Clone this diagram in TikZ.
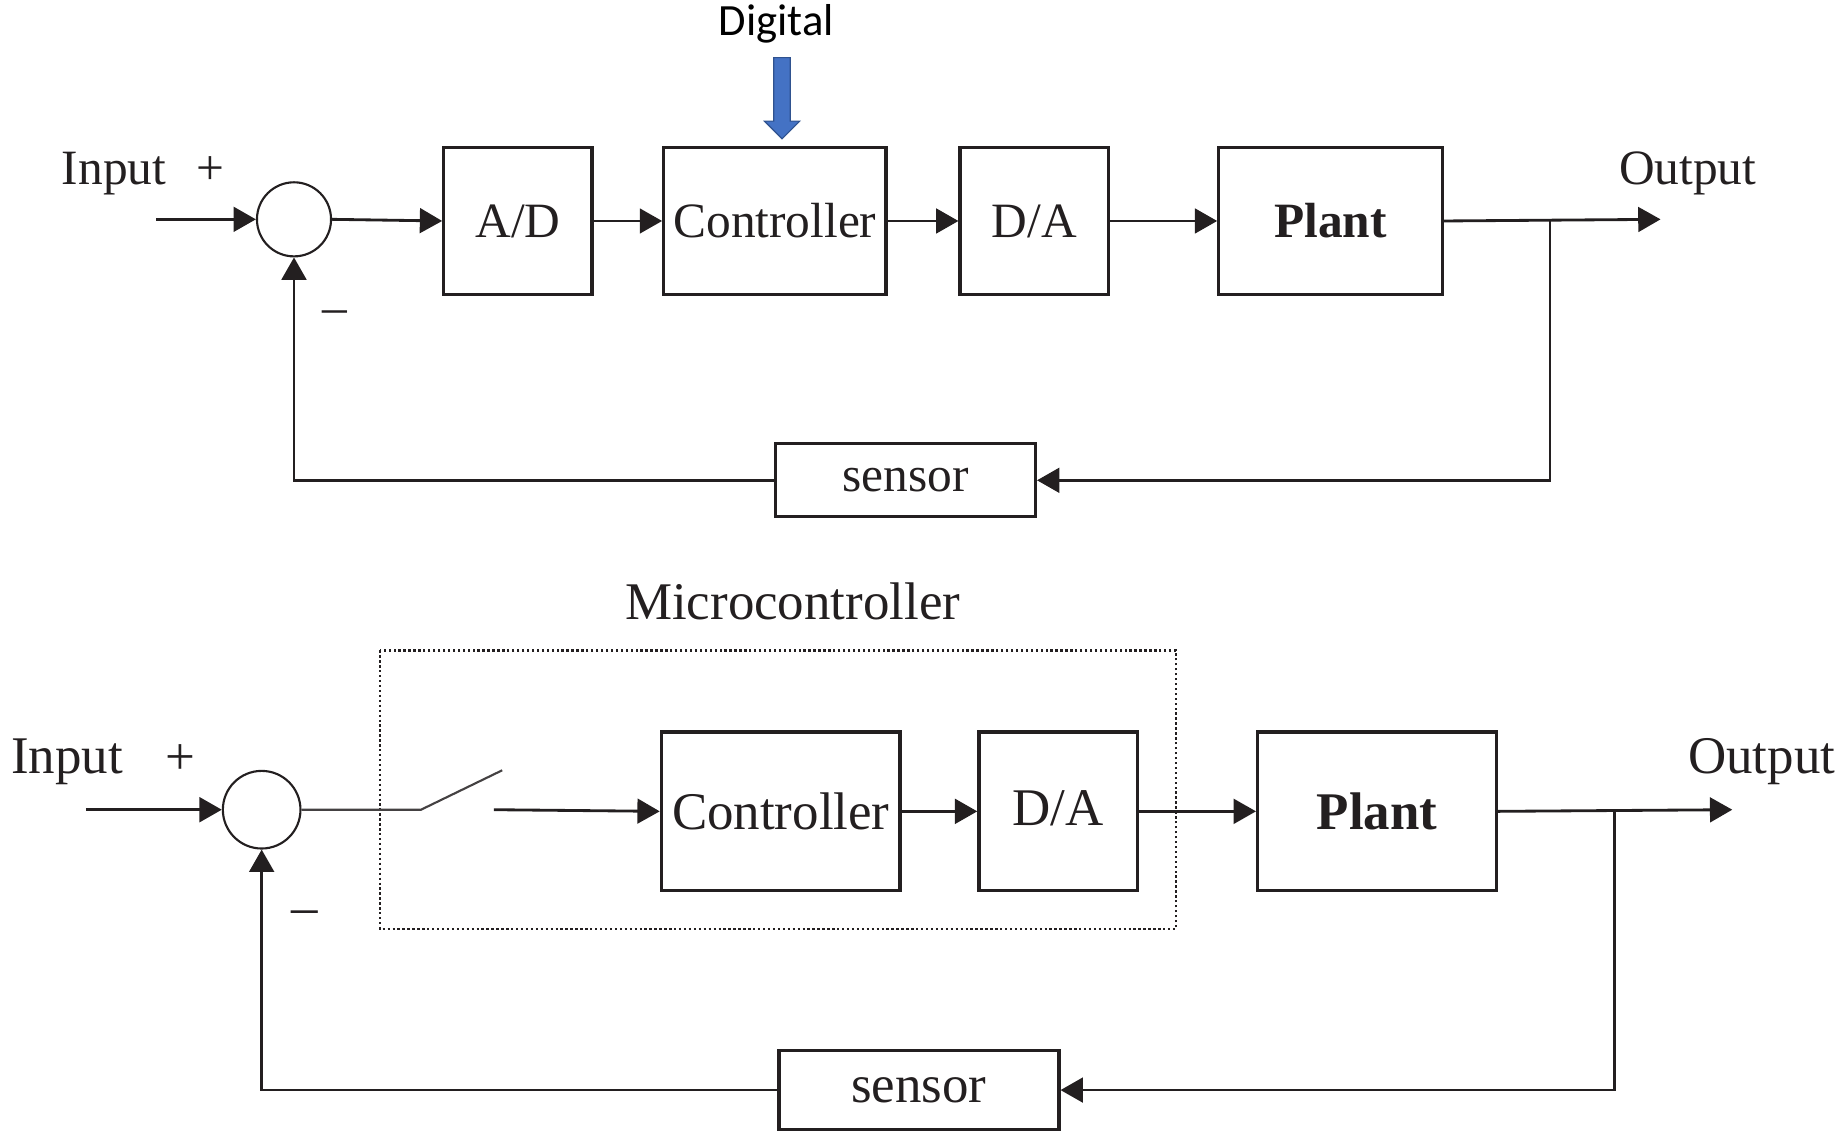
\documentclass[tikz,border=0pt]{standalone}
\usepackage{fontspec}
\setmainfont{Liberation Serif}
\newfontfamily\calfont{Carlito}
\usetikzlibrary{arrows.meta,calc}
\definecolor{ink}{HTML}{231F20}
\definecolor{arrowblue}{HTML}{4472C4}
\definecolor{arrowedge}{HTML}{2F528F}
\begin{document}
\begin{tikzpicture}[x=1pt,y=-1pt,
  blk/.style={draw=ink,line width=2.8pt,inner sep=0pt,anchor=north west},
  sumc/.style={circle,draw=ink,line width=1.8pt,minimum size=63pt,inner sep=0pt},
  txa/.style={font=\fontsize{42}{48}\selectfont,text=ink,inner sep=0pt},
  txb/.style={font=\fontsize{45}{52}\selectfont,text=ink,inner sep=0pt},
  wire/.style={line width=2.4pt,draw=ink},
  sig/.style={wire,-{Triangle[length=19pt,width=21pt]}},
]
\useasboundingbox (0,0) rectangle (1568,962);

% ---------- upper loop: A/D, controller, D/A, plant ----------
\node[sumc] (s1) at (250,186.5) {};
\node[blk,txa,minimum width=126pt,minimum height=125pt] (ad1) at (376,124) {A/D};
\node[blk,txa,minimum width=189pt,minimum height=125pt] (ct1) at (563,124) {Controller};
\node[blk,txa,minimum width=126pt,minimum height=125pt] (da1) at (815,124) {D/A};
\node[blk,txa,minimum width=190pt,minimum height=125pt] (pl1) at (1035,124) {\textbf{Plant}};
\node[blk,txa,minimum width=221pt,minimum height=62pt] (se1) at (658,376) {sensor};

\node[txa,anchor=base] (in1lbl) at (97,157) {Input};
\node[txa] (p1) at (179,145) {+};
\node[txa] (m1) at (285,270) {–};
\node[txa,anchor=base] (out1lbl) at (1435,157) {Output};

\coordinate (in1) at (133,186.5);
\coordinate (out1) at (1412,186.5);
\coordinate (br1) at (1318,186.5);

\draw[sig] (in1) -- (s1.west);
\draw[sig] (s1.east) -- (ad1.west);
\draw[sig] (ad1.east) -- (ct1.west);
\draw[sig] (ct1.east) -- (da1.west);
\draw[sig] (da1.east) -- (pl1.west);
\draw[sig] (pl1.east) -- (out1);
\draw[sig] (br1) |- (se1.east);
\draw[sig] (se1.west) -| (s1.south);

% digital marker above the controller
\node[font=\calfont\fontsize{38}{44}\selectfont,anchor=base,inner sep=0pt] (dig) at (660,30) {Digital};
\coordinate (dtip) at (665,118);
\filldraw[fill=arrowblue,draw=arrowedge,line width=1pt]
  ($(dtip)+(-7,-69)$) -- ($(dtip)+(7,-69)$) -- ($(dtip)+(7,-15)$) -- ($(dtip)+(15,-15)$)
  -- (dtip) -- ($(dtip)+(-15,-15)$) -- ($(dtip)+(-7,-15)$) -- cycle;

% ---------- lower loop: microcontroller with sampler ----------
\node[txb,anchor=base] (mclbl) at (674,527) {Microcontroller};
\draw[ink,line width=2.3pt,dash pattern=on 2pt off 2.2pt] (323,553) rectangle (1000,790);

\node[sumc,minimum size=66pt] (s2) at (222.5,688.5) {};
\node[blk,txb,minimum width=203pt,minimum height=135pt] (ct2) at (561,621) {Controller};
\node[blk,txb,minimum width=135pt,minimum height=135pt] (da2) at (831,621) {\raisebox{5pt}{D/A}};
\node[blk,txb,minimum width=203pt,minimum height=135pt] (pl2) at (1068,621) {\textbf{Plant}};
\node[blk,txb,minimum width=238pt,minimum height=67pt] (se2) at (661,892) {sensor};

\node[txb,anchor=base] (in2lbl) at (57,658) {Input};
\node[txb] (p2) at (153,646) {+};
\node[txb] (m2) at (259,780) {–};
\node[txb,anchor=base] (out2lbl) at (1498,658) {Output};

\coordinate (in2) at (73,688.5);
\coordinate (sw0) at (358,688.5);
\coordinate (sw1) at (427,655);
\coordinate (sw2) at (420,688.5);
\coordinate (out2) at (1473,688.5);
\coordinate (br2) at (1373,688.5);

\draw[sig] (in2) -- (s2.west);
\draw[ink!85,line width=1.8pt] (s2.east) -- (sw0) -- (sw1);
\draw[sig] (sw2) -- (ct2.west);
\draw[sig] (ct2.east) -- (da2.west);
\draw[sig] (da2.east) -- (pl2.west);
\draw[sig] (pl2.east) -- (out2);
\draw[sig] (br2) |- (se2.east);
\draw[sig] (se2.west) -| (s2.south);
\end{tikzpicture}
\end{document}
